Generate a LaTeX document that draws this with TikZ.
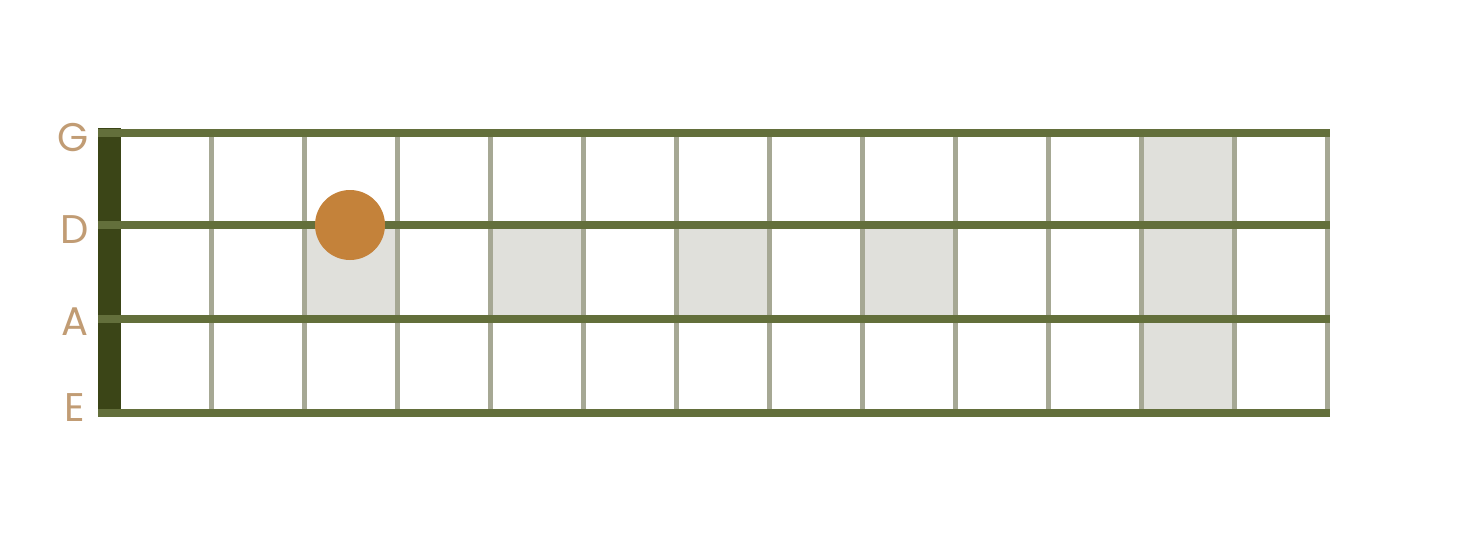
\documentclass[tikz,border=0pt]{standalone}
\usepackage{fontspec}
\newfontfamily\notefont{Poppins}
\usetikzlibrary{positioning}

\definecolor{stringgreen}{HTML}{636F3B}
\definecolor{fretgrey}{HTML}{A6A894}
\definecolor{nutgreen}{HTML}{3B4517}
\definecolor{cellgrey}{HTML}{E0E0DB}
\definecolor{notetan}{HTML}{C19C74}
\definecolor{dotorange}{HTML}{C4823A}

\begin{document}
\begin{tikzpicture}[x=1pt,y=-1pt]

            \tikzstyle{gtrstring}=[line width=8pt,draw=stringgreen]
            \tikzstyle{fret}=[line width=4.5pt,draw=fretgrey]
            \tikzstyle{cell}=[fill=cellgrey]
            \tikzstyle{nut}=[fill=nutgreen]
            \tikzstyle{stringname}=[inner sep=0pt,text=notetan,font=\notefont\fontsize{40}{40}\selectfont]
            \tikzstyle{finger}=[circle,fill=dotorange,minimum size=70pt,inner sep=0pt]

            \fill[white] (0,0) rectangle (1469,549);
            \useasboundingbox (0,0) rectangle (1469,549);

            % marked cells
            \foreach \k in {1,3,5,7}
                \fill[cell] ({211.5+93*\k},225) rectangle ({304.5+93*\k},319);
            \fill[cell] (1141.5,132) rectangle (1234.5,413);

            % frets
            \foreach \k in {0,...,12}
                \draw[fret] ({211.5+93*\k},132) -- ({211.5+93*\k},413);

            \fill[nut] (98,128) rectangle (121,417);

            % strings
            \foreach \s/\y in {G/132.5,D/225,A/319,E/413} {
                \coordinate (\s0) at (98,\y);
                \coordinate (\s1) at (1330,\y);
                \draw[gtrstring] (\s0) -- (\s1);
            }

            \node[stringname] (nG) at (73,138) {G};
            \node[stringname] (nD) at (75,230) {D};
            \node[stringname] (nA) at (75,322) {A};
            \node[stringname] (nE) at (75,408) {E};

            \node[finger] (dot) at (350,225) {};
        \end{tikzpicture}
\end{document}
